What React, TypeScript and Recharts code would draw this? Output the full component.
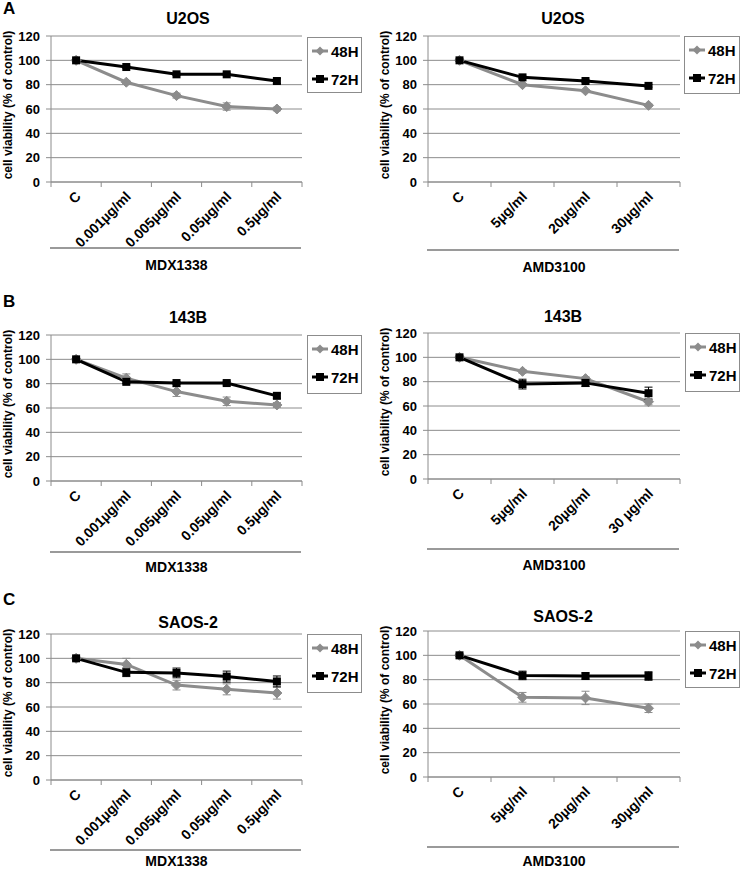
import React from 'react';
import { LineChart, Line, XAxis, YAxis, CartesianGrid, ErrorBar } from 'recharts';

const FONT = '"Liberation Sans", Arial, sans-serif';
const GRAY = '#8c8c8c';

const mdxDoses = ['C', '0.001µg/ml', '0.005µg/ml', '0.05µg/ml', '0.5µg/ml'];
const amdDoses = ['C', '5µg/ml', '20µg/ml', '30µg/ml'];
const amdDoses143B = ['C', '5µg/ml', '20µg/ml', '30 µg/ml'];
const yTicks = [0, 20, 40, 60, 80, 100, 120];

// U2OS
const u2osMdx48 = [100, 82, 71, 62, 60];
const u2osMdx48Err = [1, 1.5, 2, 3, 1.5];
const u2osMdx72 = [100, 94.5, 88.5, 88.5, 83];
const u2osMdx72Err = [1, 1, 1, 1, 2];
const u2osAmd48 = [100, 80, 75, 63];
const u2osAmd48Err = [1, 1, 1, 1];
const u2osAmd72 = [100, 86, 83, 79];
const u2osAmd72Err = [1, 1, 1, 1];

// 143B
const b143Mdx48 = [100, 84.5, 73.5, 65.5, 62.5];
const b143Mdx48Err = [1.5, 3.5, 4, 3.5, 2];
const b143Mdx72 = [100, 81.5, 80.5, 80.5, 70];
const b143Mdx72Err = [1, 1.5, 1, 1.5, 2];
const b143Amd48 = [100, 88.5, 82.5, 63.5];
const b143Amd48Err = [1, 1.5, 1.5, 2.5];
const b143Amd72 = [100, 78, 79, 70.5];
const b143Amd72Err = [1, 4, 3, 5];

// SAOS-2
const saosMdx48 = [100, 95, 78, 74.5, 71.5];
const saosMdx48Err = [1.5, 5, 4, 4.5, 5];
const saosMdx72 = [100, 88.5, 88, 85, 81];
const saosMdx72Err = [1.5, 3.5, 4, 4.5, 4.5];
const saosAmd48 = [100, 65.5, 65, 56.5];
const saosAmd48Err = [1, 4, 5.5, 3.5];
const saosAmd72 = [100, 83.5, 83, 83];
const saosAmd72Err = [1, 3.5, 2.5, 3.5];

const buildRows = (doses: string[], v48: number[], e48: number[], v72: number[], e72: number[]) =>
  doses.map((dose, i) => ({ dose, h48: v48[i], e48: e48[i], h72: v72[i], e72: e72[i] }));

const Diamond = (props: any) => {
  const { cx, cy, index } = props;
  if (cx == null || cy == null) return null;
  const r = 5;
  return (
    <polygon
      key={`d-${index}`}
      points={`${cx},${cy - r} ${cx + r},${cy} ${cx},${cy + r} ${cx - r},${cy}`}
      fill={GRAY}
      stroke={GRAY}
    />
  );
};

const Square = (props: any) => {
  const { cx, cy, index } = props;
  if (cx == null || cy == null) return null;
  return <rect key={`s-${index}`} x={cx - 4} y={cy - 4} width={8} height={8} fill="#000" />;
};

const DoseTick = (props: any) => {
  const { x, y, payload, index, bw, count } = props;
  const left = x - bw / 2;
  return (
    <g>
      <line x1={left} y1={y} x2={left} y2={y + 5} stroke={GRAY} />
      {index === count - 1 && <line x1={x + bw / 2} y1={y} x2={x + bw / 2} y2={y + 5} stroke={GRAY} />}
      <text
        x={x + 2}
        y={y + 12}
        dy="0.35em"
        textAnchor="end"
        transform={`rotate(-45, ${x + 2}, ${y + 12})`}
        fontSize={14}
        fontWeight="bold"
        fontFamily={FONT}
        fill="#000"
      >
        {payload.value}
      </text>
    </g>
  );
};

const LegendBox = ({ left, top, width, height }: any) => (
  <div
    style={{
      position: 'absolute',
      left,
      top,
      width: width - 2,
      height: height - 2,
      border: `1px solid ${GRAY}`,
      fontFamily: FONT,
      fontWeight: 'bold',
      fontSize: 15,
    }}
  >
    {[
      { label: '48H', color: GRAY, shape: 'diamond', y: 13 },
      { label: '72H', color: '#000', shape: 'square', y: 41 },
    ].map((it) => (
      <div key={it.label} style={{ position: 'absolute', left: 4, top: it.y - 9, height: 18, display: 'flex', alignItems: 'center' }}>
        <svg width={17} height={12}>
          <line x1={0} y1={6} x2={16} y2={6} stroke={it.color} strokeWidth={3} />
          {it.shape === 'diamond' ? (
            <polygon points="8,1.5 12.5,6 8,10.5 3.5,6" fill={it.color} />
          ) : (
            <rect x={4} y={2} width={8} height={8} fill={it.color} />
          )}
        </svg>
        <span style={{ marginLeft: 2 }}>{it.label}</span>
      </div>
    ))}
  </div>
);

const Panel = ({ g, doses, v48, e48, v72, e72, title, drug }: any) => {
  const rows = buildRows(doses, v48, e48, v72, e72);
  const plotW = g.plotRight - g.plotLeft;
  const n = doses.length;
  const bw = plotW / n;
  const yAxisW = 50;
  const chartLeft = g.plotLeft - yAxisW;
  const chartTop = g.plotTop - 10;
  const xAxisH = 75;
  const chartW = plotW + yAxisW + 6;
  const chartH = g.plotBottom - g.plotTop + 10 + xAxisH;
  const plotMidY = (g.plotTop + g.plotBottom) / 2;
  return (
    <>
      <div style={{ position: 'absolute', left: chartLeft, top: chartTop }}>
        <LineChart width={chartW} height={chartH} data={rows} margin={{ top: 10, right: 6, bottom: 0, left: 0 }}>
          <CartesianGrid vertical={false} stroke={GRAY} strokeWidth={1} />
          <XAxis
            dataKey="dose"
            interval={0}
            height={xAxisH}
            padding={{ left: bw / 2, right: bw / 2 }}
            tickLine={false}
            tickSize={0}
            tickMargin={0}
            axisLine={{ stroke: GRAY }}
            tick={<DoseTick bw={bw} count={n} />}
          />
          <YAxis
            width={yAxisW}
            domain={[0, 120]}
            ticks={yTicks}
            interval={0}
            tickSize={5}
            tickMargin={6}
            axisLine={{ stroke: GRAY }}
            tickLine={{ stroke: GRAY }}
            tick={{ fill: '#000', fontSize: 13, fontWeight: 'bold', fontFamily: FONT }}
          />
          <Line
            dataKey="h48"
            stroke={GRAY}
            strokeWidth={3}
            dot={Diamond}
            activeDot={false}
            isAnimationActive={false}
          >
            <ErrorBar dataKey="e48" width={4} stroke={GRAY} strokeWidth={1} direction="y" />
          </Line>
          <Line
            dataKey="h72"
            stroke="#000"
            strokeWidth={3}
            dot={Square}
            activeDot={false}
            isAnimationActive={false}
          >
            <ErrorBar dataKey="e72" width={4} stroke="#000" strokeWidth={1} direction="y" />
          </Line>
        </LineChart>
      </div>
      <div
        style={{
          position: 'absolute',
          left: g.titleX - 60,
          width: 120,
          top: g.titleY - 10,
          textAlign: 'center',
          fontFamily: FONT,
          fontWeight: 'bold',
          fontSize: 16,
          lineHeight: '20px',
        }}
      >
        {title}
      </div>
      <div
        style={{
          position: 'absolute',
          left: g.ylabX - 90,
          top: plotMidY - 4 - 8,
          width: 180,
          height: 16,
          lineHeight: '16px',
          textAlign: 'center',
          transform: 'rotate(-90deg)',
          fontFamily: FONT,
          fontWeight: 'bold',
          fontSize: 12,
          whiteSpace: 'nowrap',
        }}
      >
        cell viability (% of control)
      </div>
      <div
        style={{
          position: 'absolute',
          left: g.plotLeft - 1,
          top: g.lineY - 1,
          width: plotW,
          height: 2,
          background: '#9a9a9a',
        }}
      />
      <div
        style={{
          position: 'absolute',
          left: g.plotLeft,
          width: plotW,
          top: g.drugY - 8,
          textAlign: 'center',
          fontFamily: FONT,
          fontWeight: 'bold',
          fontSize: 14,
          lineHeight: '16px',
        }}
      >
        {drug}
      </div>
      <LegendBox left={g.legL} top={g.legT} width={g.legR - g.legL} height={g.legB - g.legT} />
    </>
  );
};

const geoAL = { plotLeft: 51, plotRight: 302, plotTop: 36, plotBottom: 182, titleX: 188, titleY: 19, ylabX: 8, lineY: 248, drugY: 265, legL: 307, legR: 362, legT: 37, legB: 93 };
const geoAR = { plotLeft: 428, plotRight: 680, plotTop: 36, plotBottom: 182, titleX: 563, titleY: 19, ylabX: 385, lineY: 250, drugY: 267, legL: 684, legR: 740, legT: 36, legB: 94 };
const geoBL = { plotLeft: 51, plotRight: 302, plotTop: 335, plotBottom: 481, titleX: 188, titleY: 318, ylabX: 8, lineY: 552, drugY: 567, legL: 307, legR: 362, legT: 335, legB: 394 };
const geoBR = { plotLeft: 428, plotRight: 680, plotTop: 333, plotBottom: 479, titleX: 563, titleY: 317, ylabX: 385, lineY: 549, drugY: 565, legL: 685, legR: 740, legT: 333, legB: 392 };
const geoCL = { plotLeft: 51, plotRight: 302, plotTop: 634, plotBottom: 780, titleX: 188, titleY: 623, ylabX: 8, lineY: 850, drugY: 861, legL: 307, legR: 362, legT: 634, legB: 693 };
const geoCR = { plotLeft: 428, plotRight: 680, plotTop: 631, plotBottom: 777, titleX: 563, titleY: 617, ylabX: 385, lineY: 847, drugY: 861, legL: 685, legR: 740, legT: 631, legB: 688 };

const PanelLetter = ({ text, top }: any) => (
  <div style={{ position: 'absolute', left: 3, top, fontFamily: FONT, fontWeight: 'bold', fontSize: 17, lineHeight: '18px' }}>
    {text}
  </div>
);

export default function App() {
  return (
    <div style={{ position: 'absolute', left: 0, top: 0, width: 741, height: 870, background: '#fff', overflow: 'hidden' }}>
      <PanelLetter text="A" top={0} />
      <PanelLetter text="B" top={293} />
      <PanelLetter text="C" top={591} />
      <Panel g={geoAL} doses={mdxDoses} v48={u2osMdx48} e48={u2osMdx48Err} v72={u2osMdx72} e72={u2osMdx72Err} title="U2OS" drug="MDX1338" />
      <Panel g={geoAR} doses={amdDoses} v48={u2osAmd48} e48={u2osAmd48Err} v72={u2osAmd72} e72={u2osAmd72Err} title="U2OS" drug="AMD3100" />
      <Panel g={geoBL} doses={mdxDoses} v48={b143Mdx48} e48={b143Mdx48Err} v72={b143Mdx72} e72={b143Mdx72Err} title="143B" drug="MDX1338" />
      <Panel g={geoBR} doses={amdDoses143B} v48={b143Amd48} e48={b143Amd48Err} v72={b143Amd72} e72={b143Amd72Err} title="143B" drug="AMD3100" />
      <Panel g={geoCL} doses={mdxDoses} v48={saosMdx48} e48={saosMdx48Err} v72={saosMdx72} e72={saosMdx72Err} title="SAOS-2" drug="MDX1338" />
      <Panel g={geoCR} doses={amdDoses} v48={saosAmd48} e48={saosAmd48Err} v72={saosAmd72} e72={saosAmd72Err} title="SAOS-2" drug="AMD3100" />
    </div>
  );
}
